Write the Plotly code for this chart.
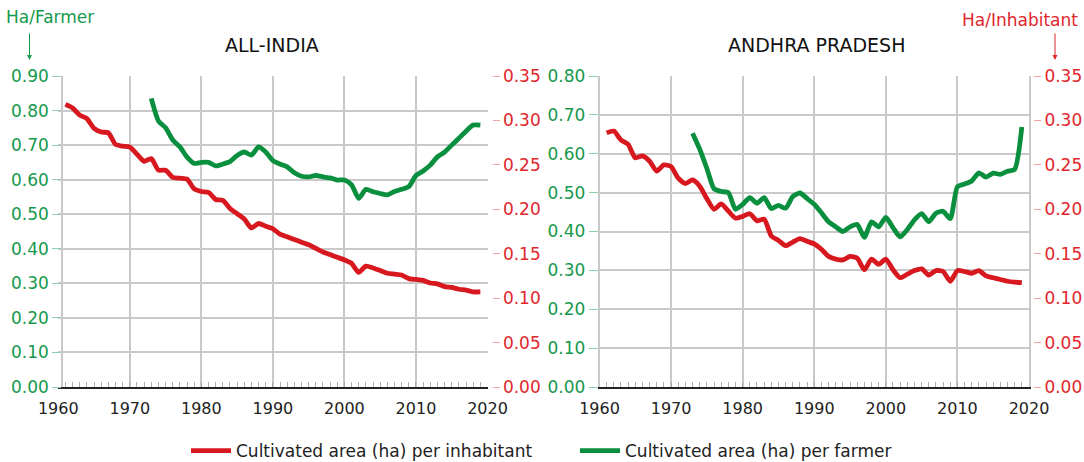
import plotly.graph_objects as go

W, H = 1084, 462

years_inh = list(range(1961, 2020))
years_farmer = list(range(1973, 2020))
x_ticks = [1960, 1970, 1980, 1990, 2000, 2010, 2020]
left_ticks_india = [0.0, 0.1, 0.2, 0.3, 0.4, 0.5, 0.6, 0.7, 0.8, 0.9]
left_ticks_ap = [0.0, 0.1, 0.2, 0.3, 0.4, 0.5, 0.6, 0.7, 0.8]
right_ticks = [0.0, 0.05, 0.10, 0.15, 0.20, 0.25, 0.30, 0.35]

india_inh = [0.318, 0.314, 0.306, 0.302, 0.291, 0.287, 0.286, 0.273, 0.271, 0.270,
             0.262, 0.254, 0.257, 0.244, 0.244, 0.236, 0.235, 0.234, 0.223, 0.220,
             0.219, 0.211, 0.210, 0.201, 0.195, 0.189, 0.179, 0.184, 0.181, 0.178,
             0.172, 0.169, 0.166, 0.163, 0.160, 0.156, 0.152, 0.149, 0.146, 0.143,
             0.139, 0.129, 0.136, 0.134, 0.131, 0.128, 0.127, 0.126, 0.122, 0.121,
             0.120, 0.117, 0.116, 0.113, 0.112, 0.110, 0.109, 0.107, 0.107]

india_farmer = [0.835, 0.770, 0.750, 0.715, 0.695, 0.665, 0.647, 0.650, 0.650, 0.640,
                0.645, 0.652, 0.670, 0.680, 0.671, 0.695, 0.680, 0.655, 0.645, 0.637,
                0.620, 0.610, 0.608, 0.612, 0.608, 0.605, 0.599, 0.599, 0.585, 0.546,
                0.572, 0.565, 0.560, 0.556, 0.566, 0.572, 0.580, 0.612, 0.625, 0.642,
                0.666, 0.680, 0.700, 0.720, 0.740, 0.758, 0.758]

ap_inh = [0.286, 0.288, 0.278, 0.273, 0.258, 0.260, 0.254, 0.243, 0.250, 0.248,
          0.235, 0.229, 0.233, 0.226, 0.212, 0.200, 0.206, 0.198, 0.190, 0.192,
          0.195, 0.187, 0.189, 0.170, 0.165, 0.159, 0.163, 0.167, 0.164, 0.161,
          0.155, 0.147, 0.144, 0.143, 0.147, 0.145, 0.132, 0.144, 0.138, 0.144,
          0.132, 0.123, 0.127, 0.131, 0.133, 0.126, 0.131, 0.130, 0.119, 0.131,
          0.130, 0.128, 0.131, 0.125, 0.123, 0.121, 0.119, 0.118, 0.1175]

ap_farmer = [0.653, 0.612, 0.562, 0.510, 0.503, 0.500, 0.457, 0.470, 0.487, 0.473,
             0.487, 0.459, 0.467, 0.460, 0.490, 0.499, 0.485, 0.470, 0.448, 0.425,
             0.412, 0.400, 0.412, 0.418, 0.385, 0.425, 0.412, 0.436, 0.410, 0.386,
             0.405, 0.430, 0.446, 0.425, 0.447, 0.452, 0.433, 0.515, 0.522, 0.530,
             0.551, 0.540, 0.550, 0.547, 0.555, 0.560, 0.669]

RED = "#d7191f"
GREEN = "#0a8f3e"
RED_TXT = "#e1262c"
GREEN_TXT = "#16994c"
GRID = "#c9c9c9"
FONT = "DejaVu Sans"


def px(x):
    return x / W


def py(y):
    return 1 - y / H


line_red = dict(color=RED, width=4.8, shape="spline", smoothing=0.6)
line_green = dict(color=GREEN, width=4.8, shape="spline", smoothing=0.6)

fig = go.Figure()
fig.add_trace(go.Scatter(x=years_inh, y=india_inh, xaxis="x", yaxis="y2", mode="lines",
                         line=line_red, name="Cultivated area (ha) per inhabitant"))
fig.add_trace(go.Scatter(x=years_farmer, y=india_farmer, xaxis="x", yaxis="y", mode="lines",
                         line=line_green, name="Cultivated area (ha) per farmer"))
fig.add_trace(go.Scatter(x=years_inh, y=ap_inh, xaxis="x2", yaxis="y4", mode="lines",
                         line=line_red, showlegend=False))
fig.add_trace(go.Scatter(x=years_farmer, y=ap_farmer, xaxis="x2", yaxis="y3", mode="lines",
                         line=line_green, showlegend=False))

ydom = [py(387), py(76)]

xcommon = dict(range=[1960, 2020], tickvals=x_ticks, showgrid=True, gridcolor=GRID, gridwidth=1.5,
               showline=True, linecolor="#222222", linewidth=1.5, ticks="inside", ticklen=5,
               tickcolor="#aaaaaa", tickfont=dict(family=FONT, size=16, color="#222222"),
               ticklabelstandoff=6,
               minor=dict(dtick=1, tick0=1960, ticks="inside", ticklen=5, tickcolor="#b0b0b0",
                          showgrid=False),
               zeroline=False, automargin=False, fixedrange=True)

ygreen = dict(domain=ydom, showgrid=True, gridcolor=GRID, gridwidth=1.5, showline=True,
              linecolor=GRID, linewidth=1.5, mirror=True, ticks="outside", ticklen=9,
              tickcolor="#8fd1a8", tickformat=".2f",
              tickfont=dict(family=FONT, size=17, color=GREEN_TXT),
              zeroline=False, automargin=False, fixedrange=True)

yred = dict(side="right", showgrid=False, showline=False, ticks="outside", ticklen=7,
            tickcolor="#f2a3a3", tickformat=".2f", tickvals=right_ticks, range=[0, 0.35],
            tickfont=dict(family=FONT, size=17, color=RED_TXT),
            zeroline=False, automargin=False, fixedrange=True, anchor="free")

fig.update_layout(
    width=W, height=H,
    margin=dict(l=0, r=0, t=0, b=0, autoexpand=False),
    paper_bgcolor="white", plot_bgcolor="white",
    font=dict(family=FONT, color="#222222"),
    xaxis=dict(domain=[px(58.3), px(487.5)], anchor="y", **xcommon),
    xaxis2=dict(domain=[px(599.5), px(1029)], anchor="y3", **xcommon),
    yaxis=dict(range=[0, 0.9], tickvals=left_ticks_india, anchor="free", position=px(62), **ygreen),
    yaxis2=dict(overlaying="y", position=px(491.5), domain=ydom, **yred),
    yaxis3=dict(range=[0, 0.8], tickvals=left_ticks_ap, anchor="x2", **ygreen),
    yaxis4=dict(overlaying="y3", position=px(1033), domain=ydom, **yred),
    legend=dict(orientation="h", x=px(186), xanchor="left", y=py(451), yanchor="middle",
                font=dict(family=FONT, size=17, color="#222222"), bgcolor="rgba(0,0,0,0)",
                entrywidth=334, itemwidth=40),
    showlegend=True,
)

annotations = [
    dict(text="ALL-INDIA", x=px(272), y=py(45), xref="paper", yref="paper", showarrow=False,
         font=dict(family=FONT, size=19, color="#111111"), xanchor="center", yanchor="middle"),
    dict(text="ANDHRA PRADESH", x=px(816), y=py(45), xref="paper", yref="paper", showarrow=False,
         font=dict(family=FONT, size=19, color="#111111"), xanchor="center", yanchor="middle"),
    dict(text="Ha/Farmer", x=px(4), y=py(17), xref="paper", yref="paper", showarrow=False,
         font=dict(family=FONT, size=17, color=GREEN_TXT), xanchor="left", yanchor="middle"),
    dict(text="Ha/Inhabitant", x=px(1080), y=py(20), xref="paper", yref="paper", showarrow=False,
         font=dict(family=FONT, size=17, color=RED_TXT), xanchor="right", yanchor="middle"),
    dict(text="", x=px(29.5), y=py(60), xref="paper", yref="paper", showarrow=True,
         ax=0, ay=-28, arrowhead=2, arrowsize=1, arrowwidth=1, arrowcolor=GREEN_TXT),
    dict(text="", x=px(1055), y=py(60), xref="paper", yref="paper", showarrow=True,
         ax=0, ay=-28, arrowhead=2, arrowsize=1, arrowwidth=1, arrowcolor=RED_TXT),
]
fig.update_layout(annotations=annotations)

fig.write_html("out.html", config={"displayModeBar": False},
               post_script="document.body.style.margin='0';document.body.style.overflow='hidden';")
